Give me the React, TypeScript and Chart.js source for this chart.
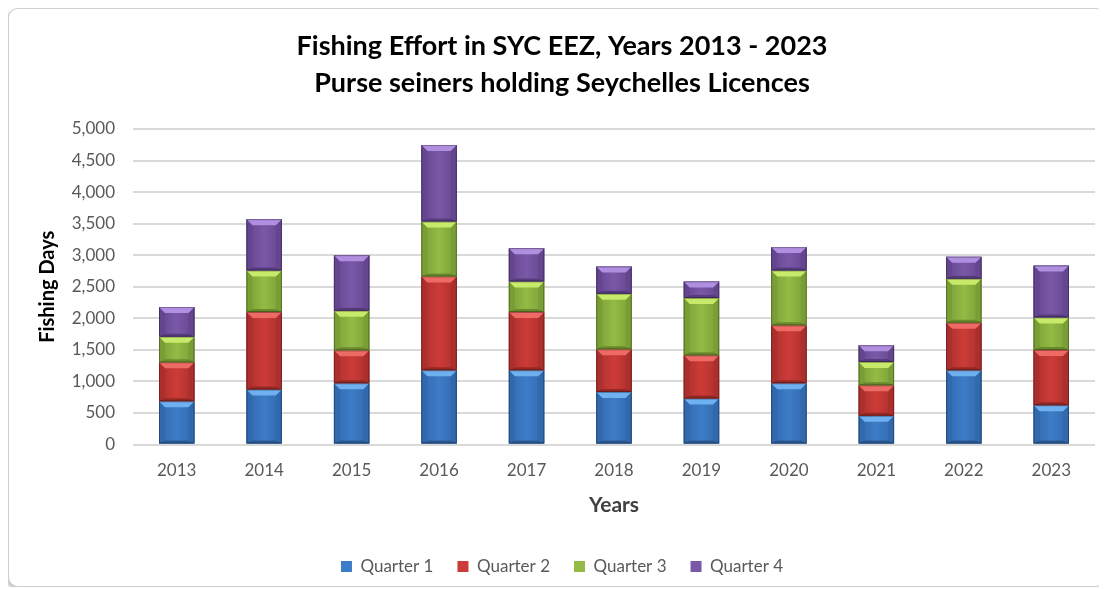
import React, { useEffect, useRef } from 'react';
import { Chart, registerables } from 'chart.js';

Chart.register(...registerables);

const years = ['2013', '2014', '2015', '2016', '2017', '2018', '2019', '2020', '2021', '2022', '2023'];
const quarter1 = [685, 870, 970, 1176, 1176, 833, 728, 970, 454, 1176, 622];
const quarter2 = [617, 1230, 522, 1487, 924, 675, 685, 918, 484, 754, 876];
const quarter3 = [407, 658, 628, 870, 484, 881, 908, 870, 370, 697, 516];
const quarter4 = [470, 813, 881, 1214, 528, 432, 263, 370, 263, 348, 823];
const seriesNames = ['Quarter 1', 'Quarter 2', 'Quarter 3', 'Quarter 4'];
const yTicks = [0, 500, 1000, 1500, 2000, 2500, 3000, 3500, 4000, 4500, 5000];

const palettes = [
  { face: '#3d7cc8', top: '#6eb0f0', side: '#3268ac', bottom: '#2a5890' },
  { face: '#cc3b37', top: '#ee6a64', side: '#ab302d', bottom: '#942825' },
  { face: '#93bb45', top: '#c8ea6a', side: '#7a9e36', bottom: '#6a8a2c' },
  { face: '#7a58a8', top: '#b08fe0', side: '#64468f', bottom: '#563c7c' },
];

const FONT = 'Lato, "Open Sans", sans-serif';

const bevelPlugin = {
  id: 'bevel',
  afterDatasetsDraw(chart: any) {
    const ctx = chart.ctx;
    chart.data.datasets.forEach((_ds: any, di: number) => {
      const meta = chart.getDatasetMeta(di);
      if (meta.hidden) return;
      const pal = palettes[di];
      meta.data.forEach((bar: any) => {
        const { x, y, base, width } = bar.getProps(['x', 'y', 'base', 'width'], true);
        const l = x - width / 2;
        const r = x + width / 2;
        const t = Math.min(y, base);
        const b = Math.max(y, base);
        const h = b - t;
        const s = Math.min(6, h / 2, width / 2);
        const sb = Math.min(3, h / 4);
        const poly = (pts: number[][], color: any) => {
          ctx.beginPath();
          ctx.moveTo(pts[0][0], pts[0][1]);
          for (let i = 1; i < pts.length; i++) ctx.lineTo(pts[i][0], pts[i][1]);
          ctx.closePath();
          ctx.fillStyle = color;
          ctx.fill();
        };
        ctx.save();
        const g = ctx.createLinearGradient(l, 0, r, 0);
        g.addColorStop(0, pal.side);
        g.addColorStop(0.5, pal.face);
        g.addColorStop(1, pal.side);
        poly([[l, t], [r, t], [r, b], [l, b]], g);
        poly([[l, b], [r, b], [r - sb, b - sb], [l + sb, b - sb]], pal.bottom);
        poly([[l, t], [l + s, t + s], [l + s, b - sb], [l, b]], pal.side);
        poly([[r, t], [r - s, t + s], [r - s, b - sb], [r, b]], pal.side);
        poly([[l, t], [r, t], [r - s, t + s], [l + s, t + s]], pal.top);
        ctx.strokeStyle = 'rgba(0,0,0,0.3)';
        ctx.lineWidth = 1;
        ctx.strokeRect(l + 0.5, t + 0.5, width - 1, h - 1);
        ctx.restore();
      });
    });
  },
};

export default function App() {
  const ref = useRef<HTMLCanvasElement | null>(null);

  useEffect(() => {
    if (!ref.current) return;
    const series = [quarter1, quarter2, quarter3, quarter4];
    const chart = new Chart(ref.current, {
      type: 'bar',
      data: {
        labels: years,
        datasets: series.map((vals, i) => ({
          label: seriesNames[i],
          data: vals,
          backgroundColor: palettes[i].face,
          borderColor: palettes[i].bottom,
          borderWidth: 0,
          categoryPercentage: 1,
          barPercentage: 0.405,
        })),
      },
      options: {
        animation: false,
        responsive: true,
        maintainAspectRatio: false,
        layout: { padding: { left: 20, right: 10, top: 8, bottom: 1 } },
        plugins: {
          title: {
            display: true,
            text: ['Fishing Effort in SYC EEZ, Years 2013 - 2023', 'Purse seiners holding Seychelles Licences'],
            color: '#000000',
            font: { family: FONT, size: 27, weight: 'bold', lineHeight: 37 / 27 },
            padding: { top: 11, bottom: 27 },
          },
          legend: {
            position: 'bottom',
            labels: {
              color: '#595959',
              font: { family: FONT, size: 17 },
              boxWidth: 11,
              boxHeight: 11,
              padding: 24,
            },
          },
          tooltip: { enabled: false },
        },
        scales: {
          x: {
            stacked: true,
            grid: { display: false, drawTicks: false },
            border: { display: false },
            ticks: { color: '#595959', font: { family: FONT, size: 17 }, padding: 16 },
            title: {
              display: true,
              text: 'Years',
              color: '#404040',
              font: { family: FONT, size: 21, weight: 'bold' },
              padding: { top: 0, bottom: 16 },
            },
            afterFit(scale: any) {
              scale.height = 89.5;
            },
          },
          y: {
            stacked: true,
            min: 0,
            max: 5000,
            afterBuildTicks(scale: any) {
              scale.ticks = yTicks.map((v) => ({ value: v }));
            },
            grid: { color: '#d9d9d9', lineWidth: 2, drawTicks: false },
            border: { display: false },
            ticks: {
              color: '#595959',
              font: { family: FONT, size: 17 },
              padding: 18,
              callback: (v: any) => Number(v).toLocaleString('en-US'),
            },
            title: {
              display: true,
              text: 'Fishing Days',
              color: '#000000',
              font: { family: FONT, size: 20, weight: 'bold' },
              padding: { top: 7, bottom: 0 },
            },
            afterFit(scale: any) {
              scale.width = 104;
            },
          },
        },
      },
      plugins: [bevelPlugin],
    });
    return () => chart.destroy();
  }, []);

  return (
    <div
      style={{
        width: 1096,
        height: 577,
        border: '1px solid #cfcfcf',
        borderRadius: 10,
        boxShadow: '-2px 2px 3px rgba(0,0,0,0.22)',
        background: '#ffffff',
        position: 'relative',
        overflow: 'hidden',
      }}
    >
      <canvas ref={ref} />
    </div>
  );
}
